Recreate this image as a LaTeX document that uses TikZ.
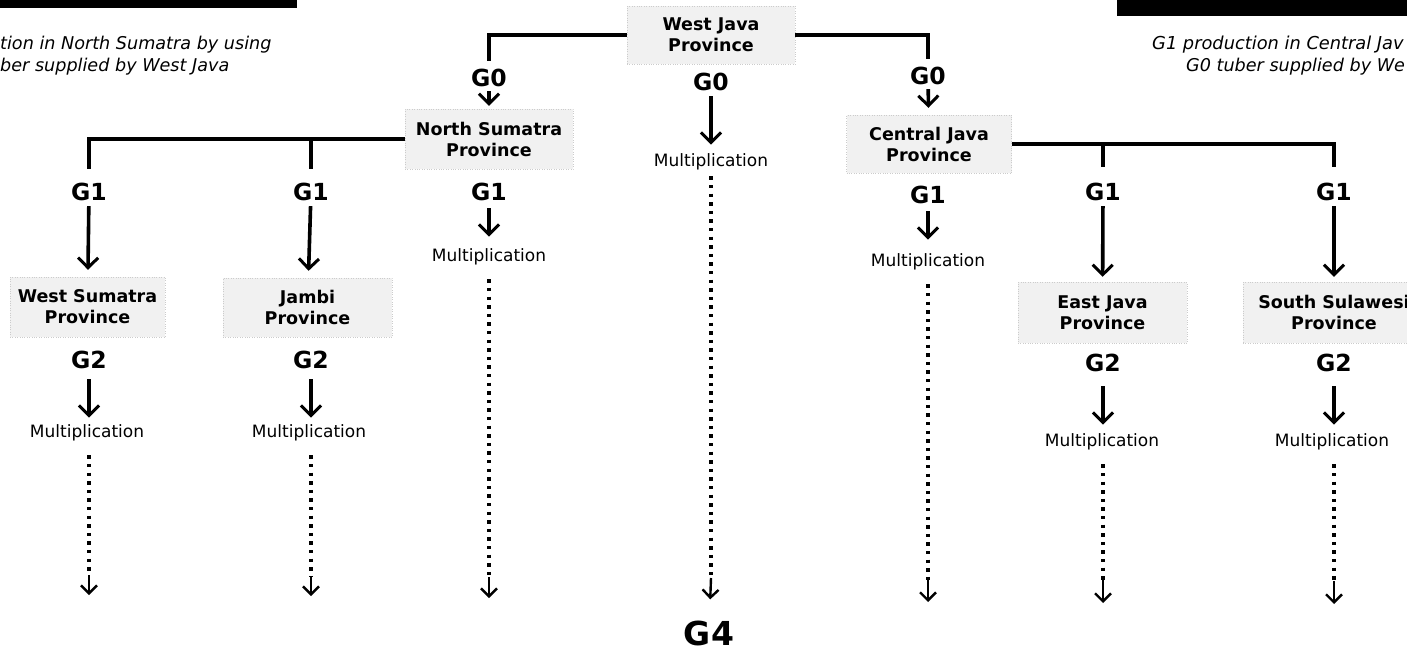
\documentclass[tikz,border=0pt]{standalone}
\usepackage{fontspec}
\setmainfont{DejaVu Sans}
\usetikzlibrary{arrows.meta}
\begin{document}
\begin{tikzpicture}[x=1pt,y=-1pt,
  prov/.style={draw=gray!40, dotted, fill=gray!11, align=center, inner sep=0pt, font=\bfseries\fontsize{17.5}{21}\selectfont},
  glab/.style={inner sep=0pt, font=\bfseries\fontsize{23.5}{26}\selectfont},
  mult/.style={inner sep=0pt, font=\fontsize{17}{18}\selectfont},
  note/.style={inner sep=0pt, align=left, font=\itshape\fontsize{17.6}{22}\selectfont},
  link/.style={line width=3.6pt},
  darr/.style={line width=3.6pt, -{Straight Barb[length=10pt,width=20pt,line width=3pt]}},
  dots/.style={line width=3.6pt, dash pattern=on 3.4pt off 5.2pt},
  tarr/.style={line width=2.4pt, -{Straight Barb[length=8pt,width=16pt,line width=2.4pt]}},
]
\useasboundingbox (0,0) rectangle (1407,654);
% remnants of header bars
\fill (0,0) rectangle (297,8);
\fill (1117,0) rectangle (1407,16);
% side notes
\node[note, anchor=west] (nl) at (0,56) {tion in North Sumatra by using\\ber supplied by West Java};
\node[note, anchor=west, font=\itshape\fontsize{17.8}{22}\selectfont] (nr1) at (1152,45) {G1 production in Central Jav};
\node[note, anchor=west] (nr2) at (1186,67) {G0 tuber supplied by We};

% top
\node[prov, minimum width=168, minimum height=58] (wj) at (711,35) {West Java\\Province};
\node[glab] (g0l) at (489,78) {G0};
\node[glab] (g0c) at (711,82) {G0};
\node[glab] (g0r) at (928,76) {G0};
\draw[link, shorten >=8pt] (wj.west) -| (g0l.north);
\draw[link, shorten >=8pt] (wj.east) -| (g0r.north);

% second level
\node[prov, minimum width=168, minimum height=60] (ns) at (489,139) {North Sumatra\\Province};
\node[prov, minimum width=165, minimum height=58] (cj) at (929,144) {Central Java\\Province};
\node[mult] (mc) at (711,162) {Multiplication};
\draw[darr, shorten <=4pt, shorten >=3pt] (g0l) -- (ns);
\draw[darr, shorten <=4pt, shorten >=7pt] (g0r) -- (cj);
\draw[darr, shorten <=5pt, shorten >=9pt] (g0c) -- (mc);

% G1 labels
\node[glab] (g1a) at (89,192) {G1};
\node[glab] (g1b) at (311,192) {G1};
\node[glab] (g1c) at (489,192) {G1};
\node[glab] (g1d) at (928,195) {G1};
\node[glab] (g1e) at (1103,192) {G1};
\node[glab] (g1f) at (1334,192) {G1};
\draw[link, shorten >=14pt] (ns.west) -| (g1a.north);
\draw[link, shorten >=14pt] (ns.west -| g1b) -- (g1b.north);
\draw[link, shorten >=16pt] (cj.east) -| (g1f.north);
\draw[link, shorten >=16pt] (cj.east -| g1e) -- (g1e.north);

% third level boxes
\node[prov, minimum width=155, minimum height=60] (ws) at (87.5,307) {West Sumatra\\Province};
\node[prov, minimum width=169, minimum height=59] (jb) at (307.5,307.5) {Jambi\\Province};
\node[prov, minimum width=169, minimum height=61] (ej) at (1102.5,312.5) {East Java\\Province};
\node[prov, minimum width=182, minimum height=61] (ss) at (1334,312.5) {South Sulawesi\\Province};
\draw[darr, shorten <=5pt, shorten >=7pt] (g1a) -- (ws);
\draw[darr, shorten <=5pt, shorten >=7pt] (g1b) -- (jb);
\draw[darr, shorten <=5pt, shorten >=5pt] (g1e) -- (ej);
\draw[darr, shorten <=5pt, shorten >=5pt] (g1f) -- (ss);

% direct multiplication in North Sumatra / Central Java
\node[mult] (mns) at (489,257) {Multiplication};
\node[mult] (mcj) at (928,262) {Multiplication};
\draw[darr, shorten <=7pt, shorten >=12pt] (g1c) -- (mns);
\draw[darr, shorten <=7pt, shorten >=14pt] (g1d) -- (mcj);

% G2 labels
\node[glab] (g2a) at (89,360) {G2};
\node[glab] (g2b) at (311,360) {G2};
\node[glab] (g2e) at (1103,363) {G2};
\node[glab] (g2f) at (1334,363) {G2};
\node[mult] (ma) at (87,433) {Multiplication};
\node[mult] (mb) at (309,433) {Multiplication};
\node[mult] (me) at (1102,442) {Multiplication};
\node[mult] (mf) at (1332,442) {Multiplication};
\draw[darr, shorten <=10pt, shorten >=7pt] (g2a) -- (ma.north -| g2a);
\draw[darr, shorten <=10pt, shorten >=7pt] (g2b) -- (mb.north -| g2b);
\draw[darr, shorten <=14pt, shorten >=9pt] (g2e) -- (me.north -| g2e);
\draw[darr, shorten <=14pt, shorten >=9pt] (g2f) -- (mf.north -| g2f);

% dotted continuations
\coordinate (ea) at (89,575);   \coordinate (ta) at (89,595);
\coordinate (eb) at (311,576);  \coordinate (tb) at (311,596);
\coordinate (ec) at (489,577);  \coordinate (tc) at (489,598);
\coordinate (ed) at (711,578);
\coordinate (ef) at (928,580);  \coordinate (tf) at (928,602);
\coordinate (eg) at (1103,580); \coordinate (tg) at (1103,603);
\coordinate (eh) at (1334,581); \coordinate (th) at (1334,604);
\node[inner sep=0pt, font=\bfseries\fontsize{33}{40}\selectfont] (g4) at (709,633) {G4};

\draw[dots, shorten <=14pt] (ma.south -| ea) -- (ea);
\draw[dots, shorten <=14pt] (mb.south -| eb) -- (eb);
\draw[dots, shorten <=14pt] (mns) -- (ec);
\draw[dots, shorten <=6pt] (mc) -- (ed);
\draw[dots, shorten <=14pt] (mcj) -- (ef);
\draw[dots, shorten <=14pt] (me.south -| eg) -- (eg);
\draw[dots, shorten <=14pt] (mf.south -| eh) -- (eh);

\draw[tarr] (ea) -- (ta);
\draw[tarr] (eb) -- (tb);
\draw[tarr] (ec) -- (tc);
\draw[tarr, shorten >=21pt] (ed) -- (g4);
\draw[tarr] (ef) -- (tf);
\draw[tarr] (eg) -- (tg);
\draw[tarr] (eh) -- (th);
\end{tikzpicture}
\end{document}
